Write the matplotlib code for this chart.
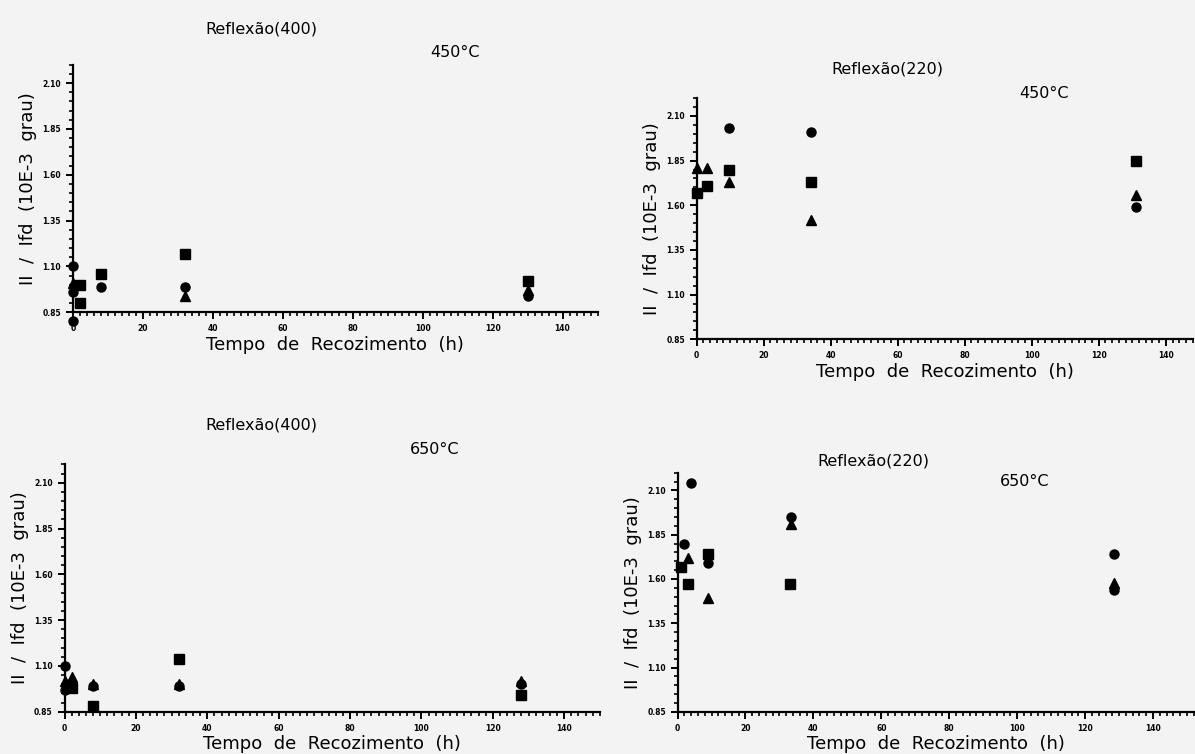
import matplotlib.pyplot as plt
from matplotlib.ticker import MultipleLocator, FixedLocator, FormatStrFormatter

# tempo (h) e razao Il/Ifd, por painel e por simbolo
p1_circ_t = [0, 0, 0, 8, 32, 130]
p1_circ_v = [1.10, 0.96, 0.80, 0.99, 0.99, 0.94]
p1_sq_t = [2, 2, 8, 32, 130]
p1_sq_v = [1.00, 0.90, 1.06, 1.17, 1.02]
p1_tri_t = [0, 32, 130]
p1_tri_v = [1.01, 0.94, 0.97]

p2_circ_t = [9.5, 34, 131]
p2_circ_v = [2.03, 2.01, 1.59]
p2_sq_t = [0, 3, 9.5, 34, 131]
p2_sq_v = [1.67, 1.71, 1.80, 1.73, 1.85]
p2_tri_t = [0, 3, 9.5, 34, 131]
p2_tri_v = [1.81, 1.81, 1.73, 1.52, 1.66]

p3_circ_t = [0, 0, 8, 32, 128]
p3_circ_v = [1.10, 0.97, 0.99, 0.99, 1.00]
p3_sq_t = [2, 8, 32, 128]
p3_sq_v = [0.98, 0.88, 1.14, 0.94]
p3_tri_t = [0, 2, 8, 32, 128]
p3_tri_v = [1.02, 1.04, 1.00, 1.00, 1.02]

p4_circ_t = [4, 2, 9, 33.5, 128.5, 128.5]
p4_circ_v = [2.14, 1.80, 1.69, 1.95, 1.74, 1.54]
p4_sq_t = [1, 3, 9, 33]
p4_sq_v = [1.67, 1.57, 1.74, 1.57]
p4_tri_t = [3, 9, 33.5, 128.5]
p4_tri_v = [1.72, 1.49, 1.91, 1.58]

y_ticks = [0.85, 1.10, 1.35, 1.60, 1.85, 2.10]
x_ticks = [0, 20, 40, 60, 80, 100, 120, 140]

reflexoes = ['Reflexão(400)', 'Reflexão(220)', 'Reflexão(400)', 'Reflexão(220)']
temperaturas = ['450°C', '450°C', '650°C', '650°C']

fig = plt.figure(figsize=(11.95, 7.54), dpi=100)
fig.patch.set_facecolor('#f3f3f3')

rects = [[0.061, 0.586, 0.439, 0.328],
         [0.583, 0.550, 0.415, 0.320],
         [0.054, 0.056, 0.448, 0.328],
         [0.567, 0.056, 0.432, 0.317]]
xmax = [150, 148, 150, 152]
series = [
    [(p1_circ_t, p1_circ_v), (p1_sq_t, p1_sq_v), (p1_tri_t, p1_tri_v)],
    [(p2_circ_t, p2_circ_v), (p2_sq_t, p2_sq_v), (p2_tri_t, p2_tri_v)],
    [(p3_circ_t, p3_circ_v), (p3_sq_t, p3_sq_v), (p3_tri_t, p3_tri_v)],
    [(p4_circ_t, p4_circ_v), (p4_sq_t, p4_sq_v), (p4_tri_t, p4_tri_v)],
]
marks = ['o', 's', '^']
y_minor = [0.85 + 0.05 * k for k in range(28)]

for i in range(4):
    ax = fig.add_axes(rects[i])
    ax.set_facecolor('none')
    for (t, v), m in zip(series[i], marks):
        ax.plot(t, v, m, color='black', ms=6.5, linestyle='none', clip_on=False)
    ax.set_xlim(0, xmax[i])
    ax.set_ylim(0.85, 2.2)
    for s in ['top', 'right']:
        ax.spines[s].set_visible(False)
    for s in ['left', 'bottom']:
        ax.spines[s].set_linewidth(1.6)
    ax.set_xticks(x_ticks)
    ax.xaxis.set_minor_locator(MultipleLocator(2))
    ax.set_yticks(y_ticks)
    ax.yaxis.set_minor_locator(FixedLocator(y_minor))
    ax.yaxis.set_major_formatter(FormatStrFormatter('%.2f'))
    ax.tick_params(which='major', length=5, width=1.4, labelsize=5.5, direction='out')
    ax.tick_params(which='minor', length=3, width=1.2, direction='out')
    for lab in ax.get_xticklabels() + ax.get_yticklabels():
        lab.set_fontweight('bold')
    ax.set_xlabel('Tempo  de  Recozimento  (h)', fontsize=13, labelpad=2)
    ax.set_ylabel('II  /  Ifd  (10E-3  grau)', fontsize=13, labelpad=4)

# titulos escritos a mao no original
fig.text(0.172, 0.955, reflexoes[0], fontsize=11.5)
fig.text(0.360, 0.925, temperaturas[0], fontsize=11.5)
fig.text(0.696, 0.902, reflexoes[1], fontsize=11.5)
fig.text(0.853, 0.870, temperaturas[1], fontsize=11.5)
fig.text(0.172, 0.430, reflexoes[2], fontsize=11.5)
fig.text(0.343, 0.398, temperaturas[2], fontsize=11.5)
fig.text(0.684, 0.383, reflexoes[3], fontsize=11.5)
fig.text(0.837, 0.355, temperaturas[3], fontsize=11.5)

fig.savefig('out.png', dpi=100, facecolor=fig.get_facecolor())
